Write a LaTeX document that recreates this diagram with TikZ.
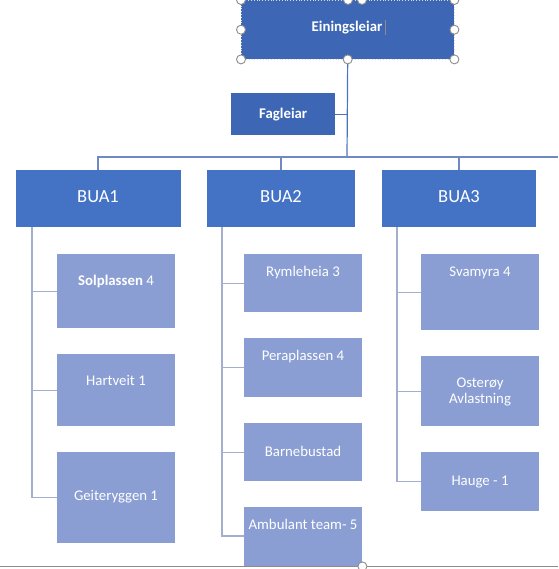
\documentclass[tikz,border=0pt]{standalone}
\usepackage{fontspec}
\setmainfont{Carlito}
\definecolor{leadblue}{HTML}{3D66B4}
\definecolor{buablue}{HTML}{4472C4}
\definecolor{childblue}{HTML}{8A9ED3}
\definecolor{trunkline}{HTML}{4A74C0}
\definecolor{busline}{HTML}{6F89C4}
\definecolor{childline}{HTML}{A2B0CE}
\definecolor{handlegrey}{HTML}{8C8C8C}
\tikzset{
  box/.style={draw=none, inner sep=0pt, anchor=north west},
  leadbox/.style={box, fill=leadblue},
  buabox/.style={box, fill=buablue},
  childbox/.style={box, fill=childblue, minimum width=118pt},
  txt/.style={text=white, font=\fontsize{14.8}{16.5}\selectfont, inner sep=0pt, align=center},
  buatxt/.style={text=white, font=\fontsize{18.5}{20}\selectfont, inner sep=0pt},
  trunk/.style={draw=trunkline, line width=1.2pt},
  bus/.style={draw=busline, line width=1.1pt},
  cline/.style={draw=childline, line width=1.1pt},
  handle/.style={circle, draw=handlegrey, fill=white, line width=0.9pt, minimum size=9pt, inner sep=0pt},
}
\begin{document}
\begin{tikzpicture}[x=1pt,y=-1pt]
\useasboundingbox[fill=white] (0,0) rectangle (558,569);
% bottom grey line
\coordinate (gl) at (0,566);
\coordinate (gr) at (558,566);
\draw[handlegrey, line width=0.9pt] (gl) -- (gr);
% leader
\node[leadbox, minimum width=213pt, minimum height=59pt] (lead) at (241,0) {};
\node[txt, font=\fontsize{14.8}{16.5}\selectfont\bfseries] (leadT) at (347,28) {Einingsleiar};
\draw[handlegrey, line width=0.6pt] ([xshift=3pt,yshift=-7pt]leadT.east) -- ([xshift=3pt,yshift=8pt]leadT.east);
\draw[white!70!gray, dotted, line width=0.8pt] (lead.north west) rectangle (lead.south east);
\node[leadbox, minimum width=104pt, minimum height=42pt] (fag) at (231,93) {};
\node[txt, font=\fontsize{14.8}{16.5}\selectfont\bfseries] (fagT) at (fag.center) {Fagleiar};
% BUA boxes
\node[buabox, minimum width=165pt, minimum height=57pt] (bua1) at (16,170) {};
\node[buabox, minimum width=148pt, minimum height=57pt] (bua2) at (207,170) {};
\node[buabox, minimum width=154pt, minimum height=57pt] (bua3) at (382,170) {};
\node[buatxt] (bua1T) at (98,197) {BUA1};
\node[buatxt] (bua2T) at (281,197) {BUA2};
\node[buatxt] (bua3T) at (459,197) {BUA3};
% trunk connectors
\coordinate (busmid) at (347,157);
\coordinate (busend) at (558,157);
\draw[trunk] (lead.south) -- (busmid);
\draw[trunk] (fag.east) -- (fag.east -| busmid);
\draw[bus] (bua1.north -| bua1T) |- (busend);
\draw[bus] (bua2.north -| bua2T) -- (bua2T |- busmid);
\draw[bus] (bua3.north -| bua3T) -- (bua3T |- busmid);
% BUA1 children
\node[childbox, minimum height=74pt] (sol) at (57,254) {};
\node[childbox, minimum height=72pt] (hart) at (57,354) {};
\node[childbox, minimum height=91pt] (geit) at (57,452) {};
\node[txt] (solT) at (116,281) {\textbf{Solplassen} 4};
\node[txt] (hartT) at (116,380) {Hartveit 1};
\node[txt] (geitT) at (116,497) {Geiteryggen 1};
\coordinate (b1t) at (32,227);
\draw[cline] (b1t) |- (geit.west);
\draw[cline] (b1t |- sol.west) -- (sol.west);
\draw[cline] (b1t |- hart.west) -- (hart.west);
% BUA2 children
\node[childbox, minimum height=58pt] (rym) at (244,254) {};
\node[childbox, minimum height=59pt] (pera) at (244,338) {};
\node[childbox, minimum height=58pt] (barn) at (244,423) {};
\node[childbox, minimum height=59pt] (amb) at (244,507) {};
\node[txt] (rymT) at (303,273) {Rymleheia 3};
\node[txt] (peraT) at (303,357) {Peraplassen 4};
\node[txt] (barnT) at (303,451) {Barnebustad};
\node[txt] (ambT) at (303,524) {Ambulant team- 5};
\coordinate (b2t) at (222,227);
\coordinate (b2e) at (222,536);
\draw[cline] (b2t) -- (b2e) -- (amb.west |- b2e);
\draw[cline] (b2t |- rym.west) -- (rym.west);
\draw[cline] (b2t |- pera.west) -- (pera.west);
\draw[cline] (b2t |- barn.west) -- (barn.west);
% BUA3 children
\node[childbox, minimum height=76pt] (svam) at (421,254) {};
\node[childbox, minimum height=70pt] (oster) at (421,356) {};
\node[childbox, minimum height=59pt] (hauge) at (421,452) {};
\node[txt] (svamT) at (480,273) {Svamyra 4};
\node[txt] (osterT) at (480,392) {Osterøy\\Avlastning};
\node[txt] (haugeT) at (480,482) {Hauge - 1};
\coordinate (b3t) at (397,227);
\draw[cline] (b3t) |- (hauge.west);
\draw[cline] (b3t |- svam.west) -- (svam.west);
\draw[cline] (b3t |- oster.west) -- (oster.west);
% selection handles
\node[handle] (h1) at (lead.north west) {};
\node[handle] (h2) at (lead.north east) {};
\node[handle] (h3) at (lead.south west) {};
\node[handle] (h4) at (lead.south east) {};
\node[handle] (h5) at (lead.south) {};
\node[handle] (h6) at (lead.west) {};
\node[handle] (h7) at (lead.east) {};
\node[handle] (h8) at (348,0) {};
\node[handle] (h9) at (362,0) {};
\node[handle] (h10) at (amb.south east) {};
\end{tikzpicture}
\end{document}
